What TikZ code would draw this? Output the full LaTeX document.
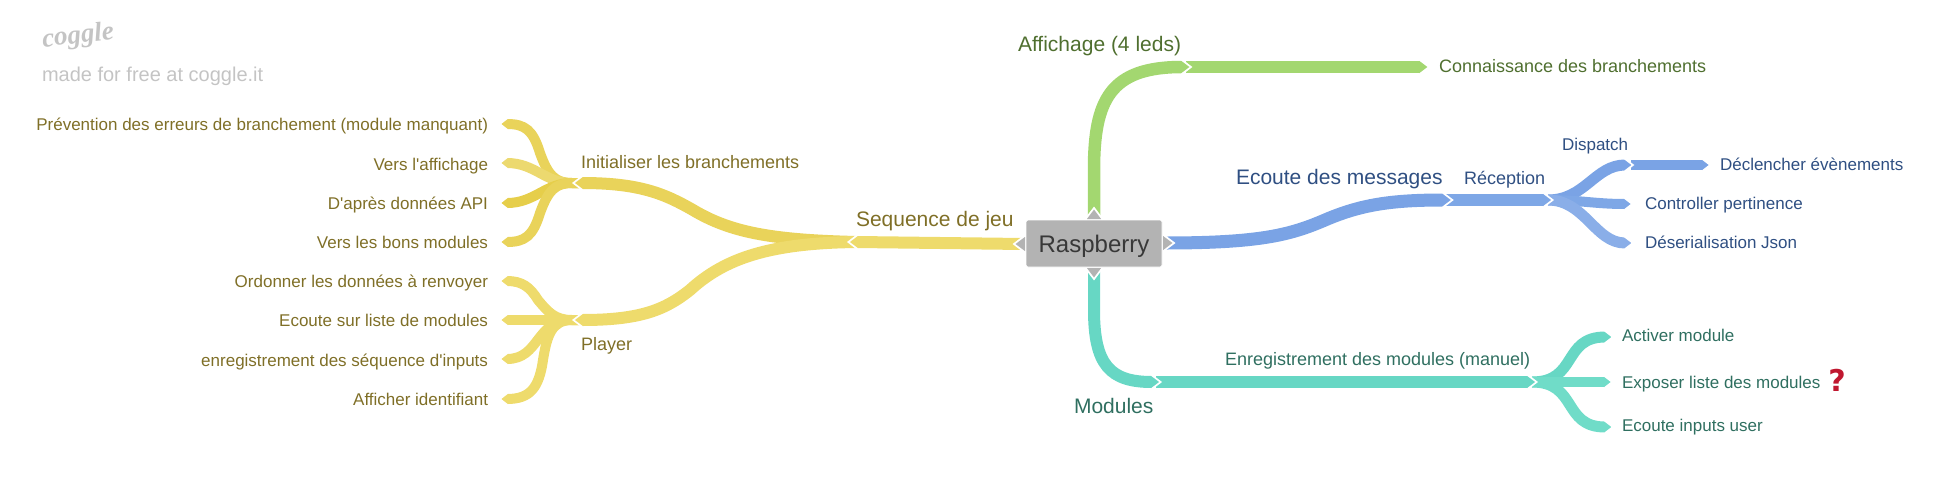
\documentclass[tikz,border=0pt]{standalone}
\usepackage{fontspec}
\setmainfont{Liberation Sans}
\newfontfamily\straightfont{Liberation Sans}
\newfontfamily\logofont{Liberation Serif}
\newfontfamily\markfont{DejaVu Sans}
\definecolor{yA}{HTML}{E9D35A}
\definecolor{yB}{HTML}{EEDB6C}
\definecolor{yC}{HTML}{E6CE4A}
\definecolor{yD}{HTML}{ECD96F}
\definecolor{gA}{HTML}{A3D770}
\definecolor{bA}{HTML}{7AA3E5}
\definecolor{bB}{HTML}{7EA7E6}
\definecolor{bC}{HTML}{8AAEE8}
\definecolor{tA}{HTML}{67D7C4}
\definecolor{tB}{HTML}{70DCC8}
\definecolor{boxgrey}{HTML}{B3B3B3}
\definecolor{yT}{HTML}{7F6F27}
\definecolor{gT}{HTML}{4F6F2F}
\definecolor{bT}{HTML}{2F4F82}
\definecolor{tT}{HTML}{2F6F60}
\definecolor{logogrey}{HTML}{C4C4C4}
\definecolor{qred}{HTML}{C0172F}
\newcommand{\fs}[1]{\fontsize{#1}{#1}\selectfont}
\newcommand{\apos}{{\straightfont'}}
\newcommand{\tipmark}[4]{%
  \begin{scope}[shift={(#1)},rotate=#2]
    \fill[#4] (-1,{-#3/2}) -- (0,{-#3/2}) -- ({0.65*#3},0) -- (0,{#3/2}) -- (-1,{#3/2}) -- cycle;
    \draw[white,line width=1.7pt] (-0.5,{-#3/2-1}) -- ({0.72*#3},0) -- (-0.5,{#3/2+1});
  \end{scope}}
\tikzset{
  branch/.style={line cap=butt,line join=round},
  lbl/.style={inner sep=0pt,outer sep=0pt},
  lw/.style={lbl,anchor=base west},
  le/.style={lbl,anchor=base east},
  small/.style={font=\fs{17}},
  mid/.style={font=\fs{18}},
  big/.style={font=\fs{21}},
}
\begin{document}
\begin{tikzpicture}[x=1pt,y=-1pt]
\useasboundingbox (0,0) rectangle (1950,485);
% anchor points
\coordinate (cL) at (1024,244);
\coordinate (cR) at (1164,243);
\coordinate (cT) at (1094,218);
\coordinate (cB) at (1094,269);
\coordinate (seq) at (857,242);
\coordinate (ini) at (582,183);
\coordinate (pla) at (582,320);
\coordinate (iniJ) at (581,183);
\coordinate (plaJ) at (581,320);
\coordinate (y1) at (507,124);
\coordinate (y2) at (507,163);
\coordinate (y3) at (507,203);
\coordinate (y4) at (507,242);
\coordinate (y5) at (507,281);
\coordinate (y6) at (507,320);
\coordinate (y7) at (507,359);
\coordinate (y8) at (507,399);
\coordinate (aff) at (1182,67);
\coordinate (con) at (1420,67);
\coordinate (eco) at (1443,200);
\coordinate (rec) at (1544,200);
\coordinate (dis) at (1625,165);
\coordinate (dec) at (1703,165);
\coordinate (ctl) at (1625,204);
\coordinate (des) at (1625,243);
\coordinate (mod) at (1152,382);
\coordinate (enr) at (1528,382);
\coordinate (act) at (1605,337);
\coordinate (exp) at (1605,382);
\coordinate (inp) at (1605,427);
% branches
\begin{scope}[branch]
\draw[yA,line width=10pt] (iniJ) -- (572,183) .. controls (555,183) and (548,175) .. (540,153) .. controls (533,130) and (525,124) .. (y1);
\draw[yD,line width=10pt] (iniJ) -- (572,183) .. controls (545,183) and (535,163) .. (y2);
\draw[yC,line width=10pt] (iniJ) -- (572,183) .. controls (545,183) and (535,203) .. (y3);
\draw[yA,line width=10pt] (iniJ) -- (572,183) .. controls (555,183) and (548,191) .. (540,213) .. controls (533,236) and (525,242) .. (y4);
\draw[yB,line width=10pt] (plaJ) -- (572,320) .. controls (555,320) and (548,312) .. (538,300) .. controls (530,287) and (522,281) .. (y5);
\draw[yB,line width=10pt] (plaJ) -- (y6);
\draw[yB,line width=10pt] (plaJ) -- (572,320) .. controls (535,320) and (540,359) .. (y7);
\draw[yB,line width=10pt] (plaJ) -- (572,320) .. controls (552,320) and (547,335) .. (543,360) .. controls (539,388) and (530,399) .. (y8);
\draw[yA,line width=12pt] (ini) .. controls (640,183) and (665,194) .. (693,210) .. controls (730,232) and (770,240) .. (seq);
\draw[yB,line width=12pt] (pla) .. controls (640,320) and (665,310) .. (690,290) .. controls (725,258) and (770,243) .. (seq);
\draw[yB,line width=12pt] (seq) -- (cL);
\draw[gA,line width=12.5pt] (cT) -- (1094,170) .. controls (1094,100) and (1110,67) .. (aff);
\draw[gA,line width=12.5pt] (1186,67) -- (con);
\draw[bA,line width=13pt] (cR) .. controls (1260,243) and (1290,235) .. (1325,220) .. controls (1360,205) and (1390,200) .. (eco);
\draw[bB,line width=12pt] (1446,200) -- (rec);
\draw[bA,line width=11pt] (1548,200) .. controls (1585,200) and (1595,165) .. (dis);
\draw[bB,line width=10pt] (1548,200) .. controls (1580,200) and (1595,204) .. (ctl);
\draw[bC,line width=11pt] (1548,200) .. controls (1585,200) and (1595,243) .. (des);
\draw[bA,line width=10pt] (1631,165) -- (dec);
\draw[tA,line width=12pt] (cB) -- (1094,310) .. controls (1094,365) and (1110,382) .. (mod);
\draw[tA,line width=12pt] (1156,382) -- (enr);
\draw[tA,line width=11pt] (1532,382) .. controls (1578,382) and (1562,337) .. (act);
\draw[tB,line width=10pt] (1532,382) -- (exp);
\draw[tB,line width=11pt] (1532,382) .. controls (1578,382) and (1562,427) .. (inp);
\end{scope}
% arrow-shaped ends
\tipmark{y1}{180}{10}{yA}\tipmark{y2}{180}{10}{yD}\tipmark{y3}{180}{10}{yC}\tipmark{y4}{180}{10}{yA}
\tipmark{y5}{180}{10}{yB}\tipmark{y6}{180}{10}{yB}\tipmark{y7}{180}{10}{yB}\tipmark{y8}{180}{10}{yB}
\tipmark{ini}{180}{12}{yA}\tipmark{pla}{180}{12}{yB}\tipmark{seq}{180}{12}{yB}
\tipmark{aff}{0}{12.5}{gA}\tipmark{con}{0}{12.5}{gA}
\tipmark{eco}{0}{13}{bA}\tipmark{rec}{0}{12}{bB}
\tipmark{dis}{0}{11}{bA}\tipmark{ctl}{0}{10}{bB}\tipmark{des}{0}{11}{bC}\tipmark{dec}{0}{10}{bA}
\tipmark{mod}{0}{12}{tA}\tipmark{enr}{0}{12}{tA}
\tipmark{act}{0}{11}{tA}\tipmark{exp}{0}{10}{tB}\tipmark{inp}{0}{11}{tB}
% central node
\node[fill=boxgrey,draw=white,line width=0.8pt,rounded corners=2pt,minimum width=136pt,minimum height=47pt,inner sep=0pt] (root) at (1094,243.5) {};
\tipmark{cL}{180}{14}{boxgrey}\tipmark{cR}{0}{14}{boxgrey}\tipmark{cT}{90}{14}{boxgrey}\tipmark{cB}{-90}{14}{boxgrey}
\node[lbl,anchor=base,font=\fs{24},text=black!78] (rootT) at (1094,252) {Raspberry};
% labels
\node[le,small,text=yT] (t1) at (488,130) {Prévention des erreurs de branchement (module manquant)};
\node[le,small,text=yT] (t2) at (488,170) {Vers l\apos affichage};
\node[le,small,text=yT] (t3) at (488,209) {D\apos après données API};
\node[le,small,text=yT] (t4) at (488,248) {Vers les bons modules};
\node[le,small,text=yT] (t5) at (488,287) {Ordonner les données à renvoyer};
\node[le,small,text=yT] (t6) at (488,326) {Ecoute sur liste de modules};
\node[le,small,text=yT] (t7) at (488,366) {enregistrement des séquence d\apos inputs};
\node[le,small,text=yT] (t8) at (488,405) {Afficher identifiant};
\node[lw,mid,text=yT] (tIni) at (581,168) {Initialiser les branchements};
\node[lw,mid,text=yT] (tPla) at (581,350) {Player};
\node[lw,big,text=yT] (tSeq) at (856,226) {Sequence de jeu};
\node[lw,big,text=gT] (tAff) at (1018,51) {Affichage (4 leds)};
\node[lw,mid,text=gT] (tCon) at (1439,72) {Connaissance des branchements};
\node[lw,big,text=bT] (tEco) at (1236,184) {Ecoute des messages};
\node[lw,mid,text=bT] (tRec) at (1464,184) {Réception};
\node[lw,small,text=bT] (tDis) at (1562,150) {Dispatch};
\node[lw,small,text=bT] (tDec) at (1720,170) {Déclencher évènements};
\node[lw,small,text=bT] (tCtl) at (1645,209) {Controller pertinence};
\node[lw,small,text=bT] (tDes) at (1645,248) {Déserialisation Json};
\node[lw,mid,text=tT] (tEnr) at (1225,365) {Enregistrement des modules (manuel)};
\node[lw,big,text=tT] (tMod) at (1074,413) {Modules};
\node[lw,small,text=tT] (tAct) at (1622,341) {Activer module};
\node[lw,small,text=tT] (tExp) at (1622,388) {Exposer liste des modules};
\node[lw,small,text=tT] (tInp) at (1622,431) {Ecoute inputs user};
\node[lbl,anchor=base,font=\markfont\bfseries\fs{30},text=qred] (tQ) at (1837,391) {?};
% watermark
\node[lw,font=\logofont\bfseries\itshape\fs{27},text=logogrey,rotate=6] (logo) at (43,47) {coggle};
\node[lw,font=\fs{20},text=logogrey] (made) at (42,81) {made for free at coggle.it};
\end{tikzpicture}
\end{document}
